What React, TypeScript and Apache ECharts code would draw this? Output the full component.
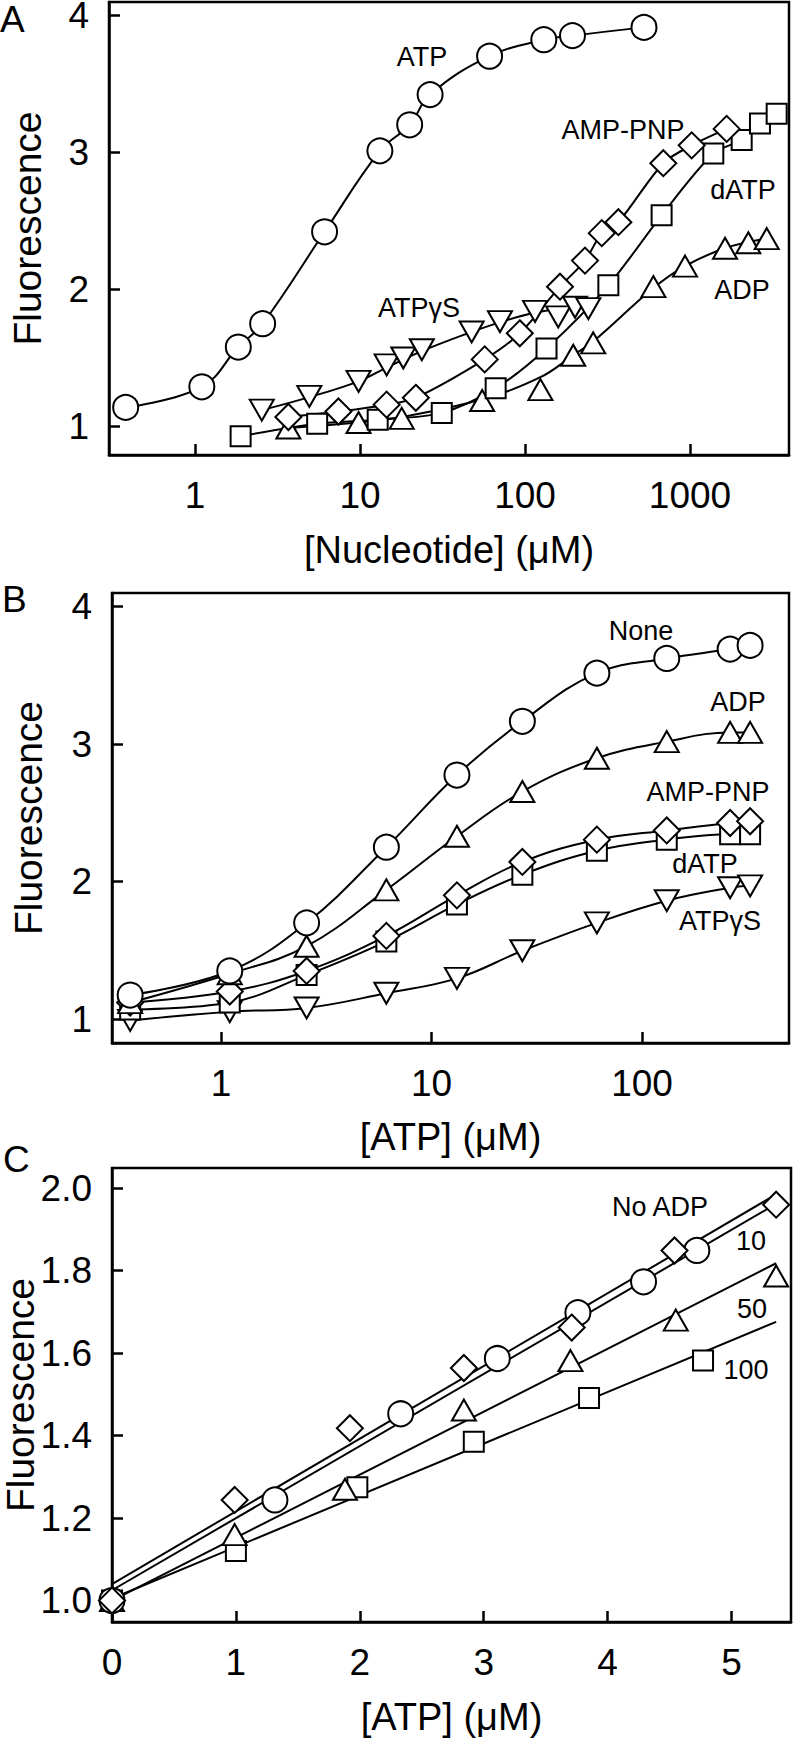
import React, { useEffect, useRef } from "react";
import * as echarts from "echarts";

type P = [number, number];

// ---------- Panel A : [Nucleotide] (uM), log x ----------
const aXTicks = [1, 10, 100, 1000];
const aYTicks = [1, 2, 3, 4];
const aATP: P[] = [[0.38, 1.14], [1.1, 1.29], [1.83, 1.58], [2.57, 1.75], [6.1, 2.42], [13.2, 3.01], [20, 3.2], [26.6, 3.42], [61, 3.7], [130, 3.82], [194, 3.85], [526, 3.91]];
const aATPgS: P[] = [[2.54, 1.12], [4.93, 1.22], [9.8, 1.33], [14.5, 1.45], [18.3, 1.5], [23.7, 1.56], [47.5, 1.69], [70.5, 1.765], [115, 1.84], [159, 1.8], [201, 1.87], [242, 1.86]];
const aATPgSFit: P[] = [[2.54, 1.12], [4.93, 1.215], [9.8, 1.33], [14.5, 1.43], [23.7, 1.55], [47.5, 1.69], [70.5, 1.76], [115, 1.83], [250, 1.89]];
const aAMPPNP: P[] = [[3.68, 1.07], [7.4, 1.11], [14.5, 1.16], [21.8, 1.21], [57, 1.49], [93, 1.68], [163, 2.02], [231, 2.21], [292, 2.41], [368, 2.49], [689, 2.92], [1024, 3.05], [1668, 3.17]];
const adATP: P[] = [[1.89, 0.93], [5.5, 1.02], [12.8, 1.05], [31.3, 1.1], [66.4, 1.28], [135, 1.57], [320, 2.03], [673, 2.54], [1384, 2.99], [2057, 3.09], [2655, 3.21], [3352, 3.28]];
const aADP: P[] = [[3.68, 0.99], [9.8, 1.03], [17.9, 1.06], [55, 1.19], [124, 1.27], [196, 1.52], [259, 1.61], [600, 2.02], [933, 2.17], [1630, 2.3], [2256, 2.34], [2918, 2.37]];
const aADPFit: P[] = [[3.68, 0.99], [9.8, 1.03], [17.9, 1.07], [55, 1.2], [124, 1.36], [196, 1.52], [259, 1.62], [600, 2.01], [933, 2.17], [1630, 2.3], [2918, 2.37]];

// ---------- Panel B : [ATP] (uM), log x ----------
const bXTicks = [1, 10, 100];
const bYTicks = [1, 2, 3, 4];
const bX = [0.37, 1.1, 2.55, 6.1, 13.2, 27, 61, 131, 262, 326];
const bNone = [1.175, 1.35, 1.7, 2.25, 2.775, 3.166, 3.516, 3.623, 3.691, 3.718];
const bADP = [1.12, 1.33, 1.53, 1.94, 2.33, 2.655, 2.897, 3.018, 3.085, 3.085];
const bAMPPNP = [1.12, 1.2, 1.35, 1.605, 1.9, 2.143, 2.305, 2.372, 2.426, 2.439];
const bdATP = [1.07, 1.12, 1.32, 1.565, 1.834, 2.05, 2.224, 2.305, 2.345, 2.345];
const bATPgS = [0.99, 1.054, 1.081, 1.188, 1.296, 1.497, 1.7, 1.861, 1.955, 1.969];

// ---------- Panel C : [ATP] (uM), linear ----------
const cXTicks = [0, 1, 2, 3, 4, 5];
const cYTicks = [1.0, 1.2, 1.4, 1.6, 1.8, 2.0];
const cNoADP: P[] = [[0, 1.0], [0.99, 1.244], [1.92, 1.418], [2.84, 1.564], [3.71, 1.662], [4.54, 1.849], [5.36, 1.96]];
const cTen: P[] = [[0, 1.0], [1.315, 1.244], [2.33, 1.453], [3.11, 1.587], [3.76, 1.698], [4.29, 1.773], [4.72, 1.849]];
const cFifty: P[] = [[0, 1.0], [0.99, 1.16], [1.88, 1.27], [2.84, 1.462], [3.7, 1.582], [4.55, 1.68], [5.36, 1.787]];
const cHundred: P[] = [[0, 1.0], [1.0, 1.12], [1.98, 1.275], [2.92, 1.385], [3.85, 1.491], [4.77, 1.582]];
const cNoADPFit: P[] = [[0, 1.04], [5.36, 1.985]];
const cTenFit: P[] = [[0, 1.025], [5.36, 1.962]];
const cFiftyFit: P[] = [[0, 1.0], [5.36, 1.818]];
const cHundredFit: P[] = [[0, 1.005], [5.36, 1.676]];

const FONT = "'Liberation Sans', Arial, Helvetica, sans-serif";
const lg = (v: number) => Math.round(Math.log10(v) * 1e9) / 1e9;
const toLog = (d: P[]) => d.map(([x, y]) => [Math.log10(x), y]);
const zip = (xs: number[], ys: number[]): P[] => xs.map((x, i) => [x, ys[i]]);

const SYM: Record<string, any> = {
  circle: { symbol: "circle", symbolSize: 25 },
  square: { symbol: "rect", symbolSize: 20 },
  diamond: { symbol: "diamond", symbolSize: 26 },
  up: { symbol: "triangle", symbolSize: [24, 21] },
  down: { symbol: "triangle", symbolSize: [24, 21], symbolRotate: 180 },
};

function lineS(idx: number, data: any[], smooth: number | boolean) {
  return {
    type: "line", xAxisIndex: idx, yAxisIndex: idx, data, smooth,
    showSymbol: false, symbol: "none", silent: true, z: 2,
    lineStyle: { color: "#000", width: 2 },
  };
}
function markS(idx: number, data: any[], kind: string) {
  return {
    type: "scatter", xAxisIndex: idx, yAxisIndex: idx, data, silent: true, z: 3,
    ...SYM[kind],
    itemStyle: { color: "#fff", borderColor: "#000", borderWidth: 2, opacity: 1 },
  };
}

function xAxisCfg(idx: number, min: number, max: number, ticks: number[], fmt: (v: number) => string, name: string, nameGap: number) {
  return {
    type: "value", gridIndex: idx, min, max, name, nameLocation: "middle", nameGap, nameMoveOverlap: false,
    nameTextStyle: { fontSize: 38, lineHeight: 38, fontFamily: FONT, color: "#000" },
    axisLine: { show: true, onZero: false, lineStyle: { color: "#000", width: 2.5 } },
    axisTick: { show: true, inside: true, length: 11, customValues: ticks, lineStyle: { color: "#000", width: 2.5 } },
    axisLabel: { show: true, margin: 22, fontSize: 37, fontFamily: FONT, color: "#000", customValues: ticks, formatter: fmt },
    splitLine: { show: false },
  };
}
function yAxisCfg(idx: number, min: number, max: number, ticks: number[], fmt: (v: number) => string, nameGap: number) {
  return {
    type: "value", gridIndex: idx, min, max, name: "Fluorescence", nameLocation: "middle", nameGap, nameMoveOverlap: false,
    nameTextStyle: { fontSize: 39, lineHeight: 32, fontFamily: FONT, color: "#000" },
    axisLine: { show: true, onZero: false, lineStyle: { color: "#000", width: 2.5 } },
    axisTick: { show: true, inside: true, length: 11, customValues: ticks, lineStyle: { color: "#000", width: 2.5 } },
    axisLabel: { show: true, margin: 20, fontSize: 37, lineHeight: 28, fontFamily: FONT, color: "#000", customValues: ticks, formatter: fmt },
    splitLine: { show: false },
  };
}

function txt(text: string, x: number, y: number, size: number, align = "center") {
  return {
    type: "text", x, y, silent: true, z: 10,
    style: { text, fill: "#000", fontSize: size, fontFamily: FONT, align, verticalAlign: "middle", textAlign: align, textVerticalAlign: "middle" },
  };
}

export default function App() {
  const ref = useRef<HTMLDivElement>(null);
  useEffect(() => {
    if (!ref.current) return;
    const chart = echarts.init(ref.current, undefined, { renderer: "svg" });
    const logFmt = (v: number) => String(Math.round(Math.pow(10, v)));
    const intFmt = (v: number) => String(Math.round(v));
    const oneFmt = (v: number) => v.toFixed(1);
    const gridBase = { show: true, borderColor: "#000", borderWidth: 2.5, containLabel: false, outerBoundsMode: "none" };

    const option: any = {
      animation: false,
      backgroundColor: "#fff",
      grid: [
        { ...gridBase, left: 109, top: 2, width: 680, height: 453 },
        { ...gridBase, left: 112, top: 593, width: 677, height: 450 },
        { ...gridBase, left: 112, top: 1168, width: 679, height: 454 },
      ],
      xAxis: [
        xAxisCfg(0, -0.5212, 3.6, aXTicks.map(lg), logFmt, "[Nucleotide] (\u03bcM)", 76),
        xAxisCfg(1, -0.518, 2.698, bXTicks.map(lg), logFmt, "[ATP] (\u03bcM)", 75),
        xAxisCfg(2, 0, 5.48, cXTicks, intFmt, "[ATP] (\u03bcM)", 76),
      ],
      yAxis: [
        yAxisCfg(0, 0.793, 4.095, aYTicks, intFmt, 66),
        yAxisCfg(1, 0.826, 4.099, bYTicks, intFmt, 68),
        yAxisCfg(2, 0.948, 2.049, cYTicks, oneFmt, 76),
      ],
      series: [
        // Panel A curves
        lineS(0, toLog(aATP), 0.4),
        lineS(0, toLog(aATPgSFit), 0.4),
        lineS(0, toLog(aAMPPNP), 0.3),
        lineS(0, toLog(adATP), 0.3),
        lineS(0, toLog(aADPFit), 0.4),
        // Panel B curves
        lineS(1, toLog(zip(bX, bNone)), 0.4),
        lineS(1, toLog(zip(bX, bADP)), 0.4),
        lineS(1, toLog(zip(bX, bAMPPNP)), 0.4),
        lineS(1, toLog(zip(bX, bdATP)), 0.4),
        lineS(1, toLog(zip(bX, bATPgS)), 0.4),
        // Panel C lines
        lineS(2, cNoADPFit, false),
        lineS(2, cTenFit, false),
        lineS(2, cFiftyFit, false),
        lineS(2, cHundredFit, false),
        // Panel A markers
        markS(0, toLog(aADP), "up"),
        markS(0, toLog(adATP), "square"),
        markS(0, toLog(aAMPPNP), "diamond"),
        markS(0, toLog(aATPgS), "down"),
        markS(0, toLog(aATP), "circle"),
        // Panel B markers
        markS(1, toLog(zip(bX, bATPgS)), "down"),
        markS(1, toLog(zip(bX, bdATP)), "square"),
        markS(1, toLog(zip(bX, bAMPPNP)), "diamond"),
        markS(1, toLog(zip(bX, bADP)), "up"),
        markS(1, toLog(zip(bX, bNone)), "circle"),
        // Panel C markers
        markS(2, cHundred, "square"),
        markS(2, cFifty, "up"),
        markS(2, cTen, "circle"),
        markS(2, cNoADP, "diamond"),
      ],
      graphic: [
        txt("A", 0, 19, 37, "left"),
        txt("B", 2, 599, 37, "left"),
        txt("C", 3, 1159, 37, "left"),
        txt("ATP", 422, 57, 27),
        txt("AMP-PNP", 623, 130, 27),
        txt("dATP", 743, 190, 27),
        txt("ADP", 742, 290, 27),
        txt("ATP\u03b3S", 419, 308, 27),
        txt("None", 641, 631, 27),
        txt("ADP", 738, 702, 27),
        txt("AMP-PNP", 708, 792, 27),
        txt("dATP", 705, 864, 27),
        txt("ATP\u03b3S", 720, 921, 27),
        txt("No ADP", 660, 1207, 27),
        txt("10", 751, 1241, 27),
        txt("50", 752, 1309, 27),
        txt("100", 746, 1370, 27),
      ],
    };
    chart.setOption(option);
    return () => chart.dispose();
  }, []);
  return (
    <div
      ref={ref}
      style={{ position: "absolute", left: 0, top: 0, width: 794, height: 1744, background: "#fff" }}
    />
  );
}
